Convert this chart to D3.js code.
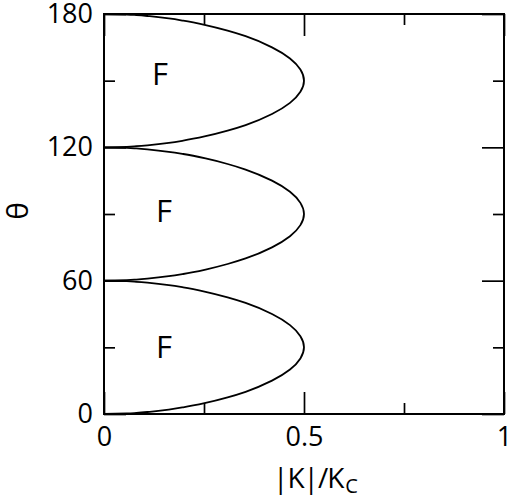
<!DOCTYPE html>
<html>
<head>
<meta charset="utf-8">
<script src="https://cdn.jsdelivr.net/npm/d3@7"></script>
<style>
  body { margin: 0; background: #fff; }
  text { font-family: "Open Sans", "Noto Sans", sans-serif; fill: #000; }
</style>
</head>
<body>
<script>
const lobeTheta1 = [0, 0.25, 0.5, 1, 2, 3, 5, 7.5, 10, 15, 20, 25, 30, 35, 40, 45, 50, 52.5, 55, 57, 58, 59, 59.5, 59.75, 60]
const lobeTheta2 = [60, 60.25, 60.5, 61, 62, 63, 65, 67.5, 70, 75, 80, 85, 90, 95, 100, 105, 110, 112.5, 115, 117, 118, 119, 119.5, 119.75, 120]
const lobeTheta3 = [120, 120.25, 120.5, 121, 122, 123, 125, 127.5, 130, 135, 140, 145, 150, 155, 160, 165, 170, 172.5, 175, 177, 178, 179, 179.5, 179.75, 180]
const lobeK = [0, 0.057, 0.081, 0.114, 0.162, 0.198, 0.254, 0.309, 0.354, 0.420, 0.465, 0.491, 0.5, 0.491, 0.465, 0.420, 0.354, 0.309, 0.254, 0.198, 0.162, 0.114, 0.081, 0.057, 0]

// "F" region labels
const labelK = [0.14, 0.15, 0.15]
const labelTheta = [153, 91.5, 30]

const xMajor = [0, 0.5, 1]
const xMinor = [0.25, 0.75]
const yMajor = [0, 60, 120, 180]
const yMinor = [30, 90, 150]

width = 509
height = 502
margin = {top: 14, left: 104, right: 5, bottom: 88}
visWidth = width - margin.left - margin.right
visHeight = height - margin.top - margin.bottom

const svg = d3.select("body").append("svg")
  .attr("width", width)
  .attr("height", height)

const g = svg.append("g")
  .attr("transform", `translate(${margin.left}, ${margin.top})`)

const x = d3.scaleLinear().domain([0, 1]).range([0, visWidth])
const y = d3.scaleLinear().domain([0, 180]).range([visHeight, 0])

const fmt = d => d3.format("")(d)

// helper to draw inward ticks on all four sides
function axisGroup(axis, tx, ty, labels) {
  const a = g.append("g")
    .attr("transform", `translate(${tx}, ${ty})`)
    .call(axis)
  a.select(".domain").remove()
  a.selectAll(".tick line").attr("stroke", "#000").attr("stroke-width", 1.7)
  if (!labels) a.selectAll(".tick text").remove()
  else a.selectAll(".tick text").attr("font-size", 27).attr("fill", "#000")
  a.attr("font-family", null)
  return a
}

// bottom
axisGroup(d3.axisBottom(x).tickValues(xMajor).tickSize(-22).tickPadding(13).tickFormat(fmt), 0, visHeight, true)
axisGroup(d3.axisBottom(x).tickValues(xMinor).tickSize(-11), 0, visHeight, false)
// top
axisGroup(d3.axisTop(x).tickValues(xMajor).tickSize(-22), 0, 0, false)
axisGroup(d3.axisTop(x).tickValues(xMinor).tickSize(-11), 0, 0, false)
// left
axisGroup(d3.axisLeft(y).tickValues(yMajor).tickSize(-22).tickPadding(11).tickFormat(fmt), 0, 0, true)
axisGroup(d3.axisLeft(y).tickValues(yMinor).tickSize(-11), 0, 0, false)
// right
axisGroup(d3.axisRight(y).tickValues(yMajor).tickSize(-22), visWidth, 0, false)
axisGroup(d3.axisRight(y).tickValues(yMinor).tickSize(-11), visWidth, 0, false)

// frame
g.append("rect")
  .attr("x", 0).attr("y", 0)
  .attr("width", visWidth).attr("height", visHeight)
  .attr("fill", "none")
  .attr("stroke", "#000")
  .attr("stroke-width", 2)

// lobes
const line = d3.line()
  .x(d => x(d[1]))
  .y(d => y(d[0]))
  .curve(d3.curveMonotoneY)

;[lobeTheta1, lobeTheta2, lobeTheta3].forEach(th => {
  g.append("path")
    .datum(th.map((t, i) => [t, lobeK[i]]))
    .attr("d", line)
    .attr("fill", "none")
    .attr("stroke", "#000")
    .attr("stroke-width", 1.8)
})

// F labels
g.selectAll(".flabel").data(labelK).join("text")
  .attr("class", "flabel")
  .attr("x", (d, i) => x(d))
  .attr("y", (d, i) => y(labelTheta[i]))
  .attr("dy", "0.36em")
  .attr("text-anchor", "middle")
  .attr("font-size", 31)
  .text("F")

// x label
const xl = svg.append("text")
  .attr("x", 273)
  .attr("y", 488)
  .attr("font-size", 28)
  .attr("letter-spacing", -1)
xl.append("tspan").text("|K|/K")
xl.append("tspan").attr("font-size", 20).attr("dy", 5).attr("dx", 2).text("C")

// y label
svg.append("text")
  .attr("transform", `translate(28, ${margin.top + visHeight / 2 - 3}) rotate(-90)`)
  .attr("text-anchor", "middle")
  .attr("font-size", 30)
  .text("θ")
</script>
</body>
</html>
